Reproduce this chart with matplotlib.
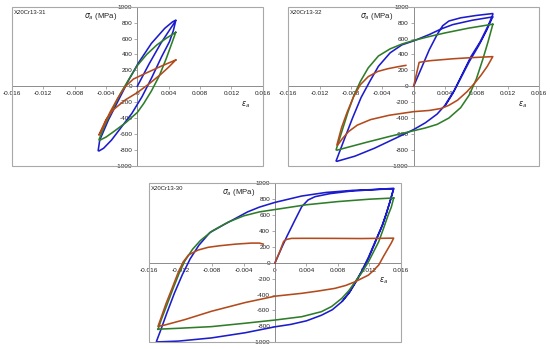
import matplotlib
matplotlib.use("Agg")
import matplotlib.pyplot as plt
from matplotlib.patches import Rectangle

plt.rcParams['font.family'] = ['Liberation Sans', 'DejaVu Sans']
plt.rcParams['mathtext.fontset'] = 'dejavusans'

# ---------------- data (strain, stress MPa) ----------------
x_ticks = [-0.016, -0.012, -0.008, -0.004, 0.0, 0.004, 0.008, 0.012, 0.016]
x_tick_labels = ["-0.016", "-0.012", "-0.008", "-0.004", "0", "0.004", "0.008", "0.012", "0.016"]
y_ticks = [-1000, -800, -600, -400, -200, 0, 200, 400, 600, 800, 1000]
y_tick_labels = ["-1000", "-800", "-600", "-400", "-200", "0", "200", "400", "600", "800", "1000"]

titles = ["X20Cr13-31", "X20Cr13-32", "X20Cr13-30"]

# Panel 1: X20Cr13-31
p1_blue_eps = [0, 0.0015, 0.003, 0.0042, 0.0049,
               0.0046, 0.0041, 0.0031, 0.0018, 0.0006, -0.0007, -0.002, -0.0033, -0.0043, -0.0049,
               -0.0050, -0.0048, -0.0037, -0.0024, -0.0011, 0.0001, 0.0018, 0.0035, 0.0045, 0.0049]
p1_blue_sig = [0, 280, 540, 720, 824,
               700, 560, 371, 100, -132, -342, -510, -678, -780, -815,
               -810, -678, -426, -174, 78, 287, 539, 728, 810, 830]
p1_green_eps = [0.0049, 0.0044, 0.0037, 0.0028, 0.0018, 0.0008, 0.0, -0.0015, -0.003, -0.004, -0.0048,
                -0.0049, -0.0042, -0.0033, -0.0022, -0.001, 0.0, 0.0012, 0.0025, 0.0038, 0.0049]
p1_green_sig = [677, 540, 350, 130, -60, -220, -330, -460, -570, -640, -680,
                -675, -500, -320, -100, 100, 260, 400, 520, 610, 677]
p1_brown_eps = [0.0049, 0.004, 0.003, 0.0015, 0.0, -0.0015, -0.003, -0.004, -0.0049,
                -0.0049, -0.0043, -0.0035, -0.0025, -0.0015, -0.0005, 0.001, 0.003, 0.0049]
p1_brown_sig = [330, 240, 150, 30, -80, -170, -290, -420, -615,
                -615, -500, -330, -150, 0, 90, 160, 250, 330]

# Panel 2: X20Cr13-32
p2_blue_eps = [0, 0.001, 0.002, 0.003, 0.0037, 0.0045, 0.006, 0.008, 0.0101,
               0.0101, 0.0095, 0.0085, 0.0073, 0.0062, 0.0052, 0.004, 0.003, 0.0015, 0.0, -0.002, -0.005, -0.0075, -0.0098,
               -0.0099, -0.0089, -0.0078, -0.0067, -0.0056, -0.0045, -0.003, -0.0015, 0.0, 0.002, 0.0035, 0.005, 0.0075, 0.0101,
               0.0101, 0.0093, 0.0083, 0.0071, 0.006, 0.005, 0.004]
p2_blue_sig = [0, 230, 460, 650, 760, 820, 860, 890, 914,
               900, 760, 560, 370, 150, -50, -240, -350, -460, -545, -640, -780, -880, -945,
               -940, -680, -400, -140, 60, 250, 420, 520, 570, 650, 720, 775, 830, 872,
               875, 700, 510, 310, 100, -90, -250]
p2_green_eps = [0.0101, 0.0095, 0.0088, 0.008, 0.0071, 0.006, 0.0045, 0.003, 0.0015, 0.0, -0.003, -0.006, -0.0098,
                -0.0099, -0.0092, -0.0084, -0.0076, -0.0068, -0.0058, -0.0045, -0.003, -0.0015, 0.0, 0.002, 0.004, 0.007, 0.0101]
p2_green_sig = [776, 560, 330, 90, -110, -270, -400, -480, -525, -560, -630, -705, -805,
                -800, -580, -330, -110, 60, 230, 380, 470, 530, 575, 625, 670, 730, 780]
p2_brown_eps = [0, 0.0007, 0.002, 0.005, 0.0075, 0.0101,
                0.0094, 0.0086, 0.0078, 0.0068, 0.0056, 0.0045, 0.0035, 0.002, 0.0, -0.0031, -0.0055, -0.0072, -0.0083, -0.0091, -0.0097,
                -0.0098, -0.0092, -0.0085, -0.0077, -0.0068, -0.0058, -0.0046, -0.0033, -0.002, -0.001]
p2_brown_sig = [0, 300, 320, 345, 360, 372,
                250, 138, 40, -70, -176, -240, -280, -305, -320, -365, -420, -490, -570, -660, -740,
                -740, -520, -330, -140, 20, 120, 185, 220, 245, 262]

# Panel 3: X20Cr13-30
p3_blue_eps = [0, 0.0008, 0.0015, 0.0025, 0.0034, 0.0042, 0.0051, 0.007, 0.0095, 0.0119, 0.0151,
               0.0146, 0.0141, 0.0136, 0.0128, 0.0119, 0.011, 0.0102, 0.0094, 0.0085, 0.0073, 0.0059, 0.004, 0.002, 0.0,
               -0.0038, -0.0081, -0.0123, -0.015,
               -0.0151, -0.0146, -0.0138, -0.0128, -0.0118, -0.0108, -0.0097, -0.0083, -0.0065, -0.005, -0.0035, -0.002, 0.0,
               0.0034, 0.0065, 0.01, 0.0151,
               0.0147, 0.0142, 0.0137, 0.0129, 0.012, 0.0111, 0.0103, 0.0095, 0.0086]
p3_blue_sig = [0, 180, 330, 530, 706, 790, 832, 870, 900, 916, 937,
               760, 600, 460, 280, 70, -110, -250, -380, -490, -590, -660, -730, -775, -805,
               -880, -945, -985, -995,
               -990, -860, -640, -380, -150, 50, 220, 380, 480, 560, 640, 700, 760,
               840, 885, 912, 930,
               790, 630, 480, 290, 80, -100, -240, -370, -480]
p3_green_eps = [0.0151, 0.0148, 0.0144, 0.0138, 0.0132, 0.0125, 0.0119, 0.011, 0.0102, 0.0094, 0.0085, 0.0072, 0.0059,
                0.0034, 0.0, -0.0038, -0.0081, -0.0123, -0.0149,
                -0.0149, -0.0145, -0.0138, -0.013, -0.0122, -0.0115, -0.0105, -0.0095, -0.008, -0.006, -0.004, -0.002,
                0.0, 0.004, 0.008, 0.012, 0.0151]
p3_green_sig = [815, 700, 601, 430, 266, 130, 14, -130, -238, -350, -447, -550, -615,
                -678, -720, -760, -803, -824, -835,
                -840, -720, -540, -330, -130, 20, 170, 280, 400, 510, 590, 640,
                670, 730, 770, 800, 815]
p3_brown_eps = [0, 0.0006, 0.0011, 0.0015, 0.0021, 0.004, 0.0076, 0.011, 0.0151,
                0.0148, 0.0144, 0.0138, 0.0132, 0.0125, 0.0119, 0.0102, 0.009, 0.0076, 0.0055, 0.0034, 0.0,
                -0.0038, -0.0081, -0.0115, -0.014, -0.0149,
                -0.0149, -0.0145, -0.0139, -0.0131, -0.0124, -0.0117, -0.011, -0.0098, -0.0085, -0.007, -0.005,
                -0.003, -0.002, -0.0015]
p3_brown_sig = [0, 140, 270, 295, 307, 308, 307, 305, 310,
                250, 182, 80, -28, -100, -154, -238, -285, -322, -355, -384, -420,
                -500, -610, -715, -782, -800,
                -800, -690, -520, -320, -140, 10, 100, 160, 195, 215, 235,
                248, 248, 235]

BLUE = '#1c1ccc'
GREEN = '#2f7d2a'
BROWN = '#b34a1c'
AXIS_GREY = '#8c8c8c'
BOX_GREY = '#a8a8a8'

panels = [
    (titles[0], [(p1_blue_eps, p1_blue_sig, BLUE), (p1_green_eps, p1_green_sig, GREEN), (p1_brown_eps, p1_brown_sig, BROWN)]),
    (titles[1], [(p2_blue_eps, p2_blue_sig, BLUE), (p2_green_eps, p2_green_sig, GREEN), (p2_brown_eps, p2_brown_sig, BROWN)]),
    (titles[2], [(p3_blue_eps, p3_blue_sig, BLUE), (p3_green_eps, p3_green_sig, GREEN), (p3_brown_eps, p3_brown_sig, BROWN)]),
]

fig = plt.figure(figsize=(5.5, 3.49), dpi=100)
positions = [
    [0.0218, 0.5252, 0.4558, 0.4556],
    [0.5242, 0.5252, 0.4558, 0.4556],
    [0.2715, 0.0192, 0.4571, 0.4556],
]

for pos, (title, curves) in zip(positions, panels):
    ax = fig.add_axes(pos)
    ax.set_xlim(-0.016, 0.016)
    ax.set_ylim(-1000, 1000)
    for eps, sig, col in curves:
        ax.plot(eps, sig, color=col, lw=1.15, solid_joinstyle='round', zorder=3)
    ax.spines['left'].set_position('zero')
    ax.spines['bottom'].set_position('zero')
    ax.spines['top'].set_visible(False)
    ax.spines['right'].set_visible(False)
    for s in ('left', 'bottom'):
        ax.spines[s].set_color(AXIS_GREY)
        ax.spines[s].set_linewidth(0.7)
        ax.spines[s].set_zorder(2)
    ax.add_patch(Rectangle((0, 0), 1, 1, transform=ax.transAxes, fill=False,
                           edgecolor=BOX_GREY, lw=0.8, clip_on=False, zorder=4))
    ax.set_xticks(x_ticks)
    ax.set_xticklabels(x_tick_labels)
    ax.set_yticks(y_ticks)
    ax.set_yticklabels(y_tick_labels)
    ax.tick_params(axis='both', labelsize=4.6, length=2, width=0.5, color=AXIS_GREY,
                   direction='out', pad=1.5, labelcolor='#222222')
    ax.patch.set_alpha(0)
    ax.text(0.008, 0.965, title, transform=ax.transAxes, fontsize=4.3, ha='left', va='center', color='#222222')
    ax.text(0.42, 0.94, r'$\sigma_a$ (MPa)', transform=ax.transAxes, fontsize=5.6, ha='right', va='center', color='#222222')
    ax.text(0.933, 0.385, r'$\varepsilon_a$', transform=ax.transAxes, fontsize=5.6, ha='center', va='center', color='#222222')

fig.savefig('out.png', dpi=100, facecolor='white')
